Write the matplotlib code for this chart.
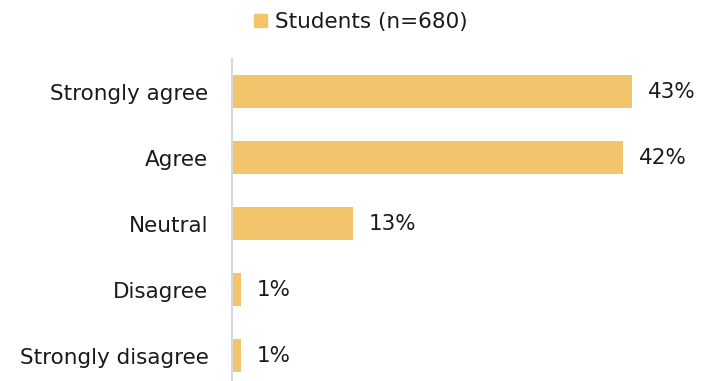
import matplotlib.pyplot as plt
import matplotlib.patches as mpatches

categories = ['Strongly agree', 'Agree', 'Neutral', 'Disagree', 'Strongly disagree']
students = [43, 42, 13, 1, 1]
value_labels = ['43%', '42%', '13%', '1%', '1%']
series_name = 'Students (n=680)'

bar_color = '#F2C46B'
text_color = '#1a1a1a'

plt.rcParams['font.family'] = ['DejaVu Sans']

fig = plt.figure(figsize=(7.05, 3.81), dpi=100)
ax = fig.add_axes([232 / 705, 0.0, 1 - 232 / 705, (381 - 59) / 381])

y_pos = list(range(len(categories)))
ax.barh(y_pos, students, height=0.5, color=bar_color)
for y, v, lab in zip(y_pos, students, value_labels):
    ax.text(v + 1.7, y, lab, va='center', ha='left', fontsize=15.5, color=text_color)

ax.set_yticks(y_pos)
ax.set_yticklabels(categories, fontsize=15.5, color=text_color)
ax.tick_params(axis='y', length=0, pad=17)
ax.set_xticks([])
ax.set_xlim(0, 50.8)
ax.set_ylim(4.38, -0.5)

for side in ['top', 'right', 'bottom']:
    ax.spines[side].set_visible(False)
ax.spines['left'].set_color('#d9d9d9')
ax.spines['left'].set_linewidth(1.5)

handle = mpatches.Patch(color=bar_color, label=series_name)
fig.legend(handles=[handle], loc='center', bbox_to_anchor=(361 / 705, 1 - 22 / 381),
           frameon=False, fontsize=15.5, handlelength=0.6, handleheight=0.6,
           handletextpad=0.4, labelcolor=text_color)

fig.savefig('out.png', dpi=100)
